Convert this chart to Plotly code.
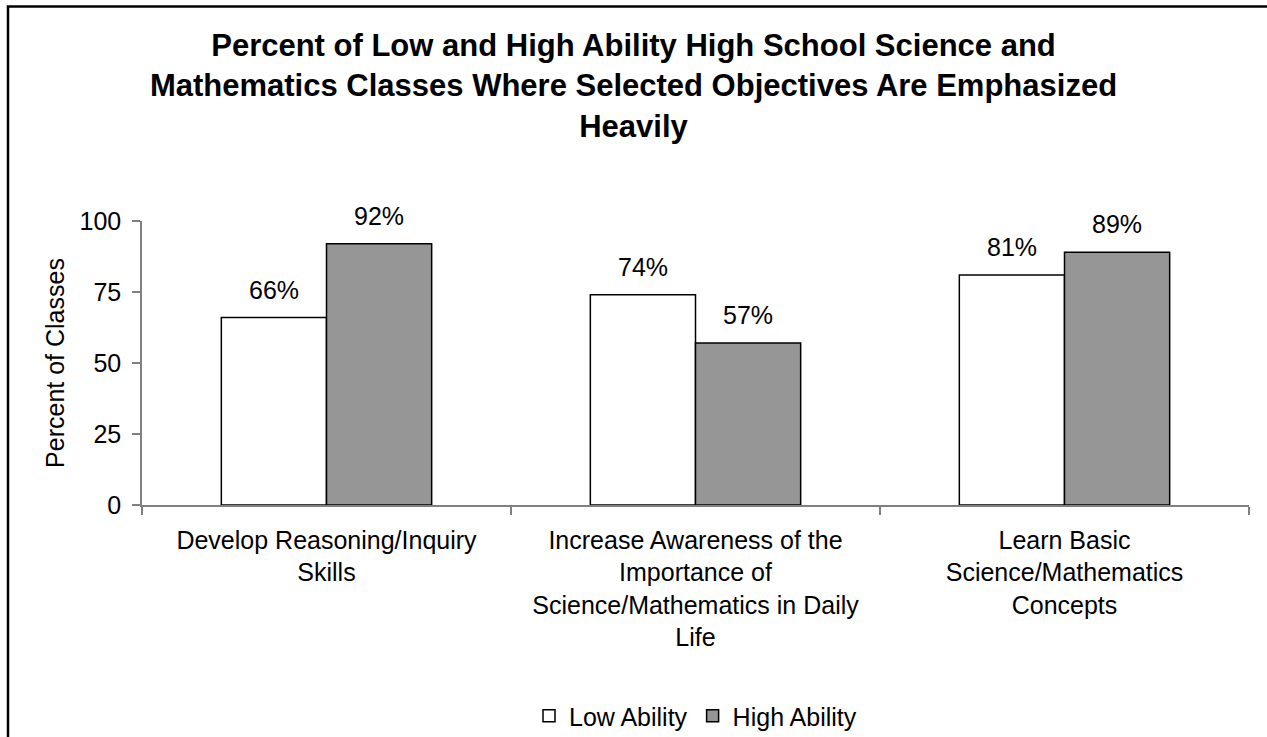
import plotly.graph_objects as go

categories = [
    "Develop Reasoning/Inquiry<br>Skills",
    "Increase Awareness of the<br>Importance of<br>Science/Mathematics in Daily<br>Life",
    "Learn Basic<br>Science/Mathematics<br>Concepts",
]
low_ability = [66, 74, 81]
high_ability = [92, 57, 89]
series_names = ["Low Ability", "High Ability"]
y_ticks = [0, 25, 50, 75, 100]

W, H = 1267, 737
ML, MR, MT, MB = 142, 18, 221, 232
FONT = "Liberation Sans, Arial, sans-serif"
BARGAP = 0.43

fig = go.Figure()
fig.add_trace(go.Bar(
    x=categories, y=low_ability, name=series_names[0],
    marker=dict(color="#ffffff", line=dict(color="#000000", width=1.5)),
))
fig.add_trace(go.Bar(
    x=categories, y=high_ability, name=series_names[1],
    marker=dict(color="#969696", line=dict(color="#000000", width=1.5)),
))

half = (1 - BARGAP) / 4
for i, (lo, hi) in enumerate(zip(low_ability, high_ability)):
    for v, off in ((lo, -half), (hi, half)):
        fig.add_annotation(
            x=i + off, y=v, xref="x", yref="y", text=f"{v}%",
            showarrow=False, yanchor="bottom", yshift=12,
            font=dict(family=FONT, size=25, color="#000000"),
        )

pw = W - ML - MR
ph = H - MT - MB
fig.add_shape(
    type="rect", xref="paper", yref="paper",
    x0=(8 - ML) / pw, x1=(W + 10 - ML) / pw,
    y0=(H - MB - (H + 10)) / ph, y1=(H - MB - 6.5) / ph,
    line=dict(color="#000000", width=2.5), fillcolor="rgba(0,0,0,0)",
    layer="above",
)

fig.update_layout(
    width=W, height=H,
    margin=dict(l=ML, r=MR, t=MT, b=MB, autoexpand=False),
    paper_bgcolor="#ffffff", plot_bgcolor="#ffffff",
    barmode="group", bargap=BARGAP, bargroupgap=0,
    font=dict(family=FONT, size=25, color="#000000"),
    title=dict(
        text="Percent of Low and High Ability High School Science and<br>"
             "Mathematics Classes Where Selected Objectives Are Emphasized<br>Heavily",
        x=0.5, xref="container", xanchor="center",
        y=1 - 56 / H, yref="container", yanchor="middle",
        font=dict(family=FONT, size=31, color="#000000", weight="bold"),
    ),
    showlegend=True,
    legend=dict(
        orientation="h", x=0.5, xref="paper", xanchor="center",
        y=1 - 716 / H, yref="container", yanchor="middle",
        font=dict(family=FONT, size=25, color="#000000"),
        itemwidth=30, traceorder="normal",
    ),
    xaxis=dict(
        type="category", showline=True, linecolor="#808080", linewidth=1.5,
        ticks="outside", tickson="boundaries", ticklen=8, tickcolor="#808080",
        tickwidth=1.5, showgrid=False, automargin=False,
        tickfont=dict(family=FONT, size=25, color="#000000"),
        ticklabelstandoff=12,
    ),
    yaxis=dict(
        range=[0, 100], tickvals=y_ticks, showline=True, linecolor="#808080",
        linewidth=1.5, ticks="outside", ticklen=8, tickcolor="#808080",
        tickwidth=1.5, showgrid=False, zeroline=False, automargin=False,
        tickfont=dict(family=FONT, size=25, color="#000000"),
        ticklabelstandoff=6,
        title=dict(text="Percent of Classes", standoff=8,
                   font=dict(family=FONT, size=25, color="#000000")),
    ),
)

fig.write_html("out.html", config={"displayModeBar": False},
               post_script="document.body.style.margin='0';")
